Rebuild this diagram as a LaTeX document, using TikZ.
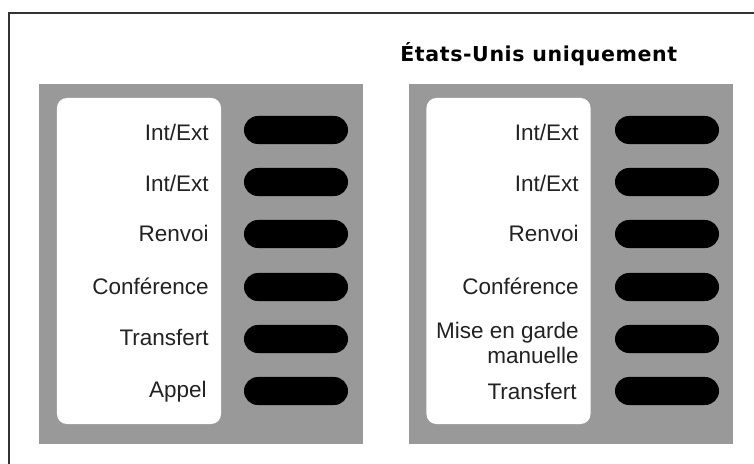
\documentclass[tikz,border=0pt]{standalone}
\usepackage{fontspec}
\setmainfont{Liberation Sans}
\newfontfamily\titlefont[LetterSpace=3]{DejaVu Sans}
\usepackage{xcolor}
\usepackage{tikz}
\usetikzlibrary{positioning}
\definecolor{panelgray}{HTML}{999999}
\definecolor{framegray}{HTML}{333333}
\definecolor{labelgray}{HTML}{222222}

\begin{document}
\begin{tikzpicture}[x=0.025cm, y=-0.025cm,
    panel/.style={rectangle, fill=panelgray, minimum width=8.1cm,
                  minimum height=9cm, inner sep=0pt},
    card/.style={rectangle, fill=white, rounded corners=0.25cm,
                 minimum width=4.1cm, minimum height=8.15cm, inner sep=0pt},
    key/.style={rectangle, fill=black, rounded corners=0.35cm,
                minimum width=2.6cm, minimum height=0.7cm, inner sep=0pt},
    keylabel/.style={anchor=base east, inner sep=0pt, text=labelgray,
                     font=\fontsize{16}{18}\selectfont},
]
    \useasboundingbox (0,0) rectangle (754,464);

    % Frame
    \draw[framegray, line width=1.4pt] (9,470) -- (9,13) -- (760,13);

    % Title
    \node[anchor=base west, inner sep=0pt,
          font=\titlefont\bfseries\fontsize{14.6}{17}\selectfont]
        (title) at (400,62) {États-Unis uniquement};

    % Panels
    \node[panel] (lpanel) at (201,264) {};
    \node[card]  (lcard)  at (139,261) {};
    \node[panel] (rpanel) at (571,264) {};
    \node[card]  (rcard)  at (508.5,261) {};

    % Keys, left
    \node[key] (lk1) at (296,130) {};
    \node[key] (lk2) at (296,182) {};
    \node[key] (lk3) at (296,234) {};
    \node[key] (lk4) at (296,287) {};
    \node[key] (lk5) at (296,339) {};
    \node[key] (lk6) at (296,391) {};

    % Keys, right
    \node[key] (rk1) at (667,130) {};
    \node[key] (rk2) at (667,182) {};
    \node[key] (rk3) at (667,234) {};
    \node[key] (rk4) at (667,287) {};
    \node[key] (rk5) at (667,339) {};
    \node[key] (rk6) at (667,391) {};

    % Labels, left
    \node[keylabel] (ll1) at (209,141) {Int/Ext};
    \node[keylabel] (ll2) at (209,192) {Int/Ext};
    \node[keylabel] (ll3) at (209,242) {Renvoi};
    \node[keylabel] (ll4) at (209,294) {Conférence};
    \node[keylabel] (ll5) at (209,345) {Transfert};
    \node[keylabel] (ll6) at (207,397) {Appel};

    % Labels, right
    \node[keylabel] (rl1) at (579,141) {Int/Ext};
    \node[keylabel] (rl2) at (579,192) {Int/Ext};
    \node[keylabel] (rl3) at (579,242) {Renvoi};
    \node[keylabel] (rl4) at (579,295) {Conférence};
    \node[keylabel, anchor=east, align=right] (rl5) at (579,343)
        {Mise en garde\\manuelle};
    \node[keylabel] (rl6) at (577,399) {Transfert};
\end{tikzpicture}
\end{document}
